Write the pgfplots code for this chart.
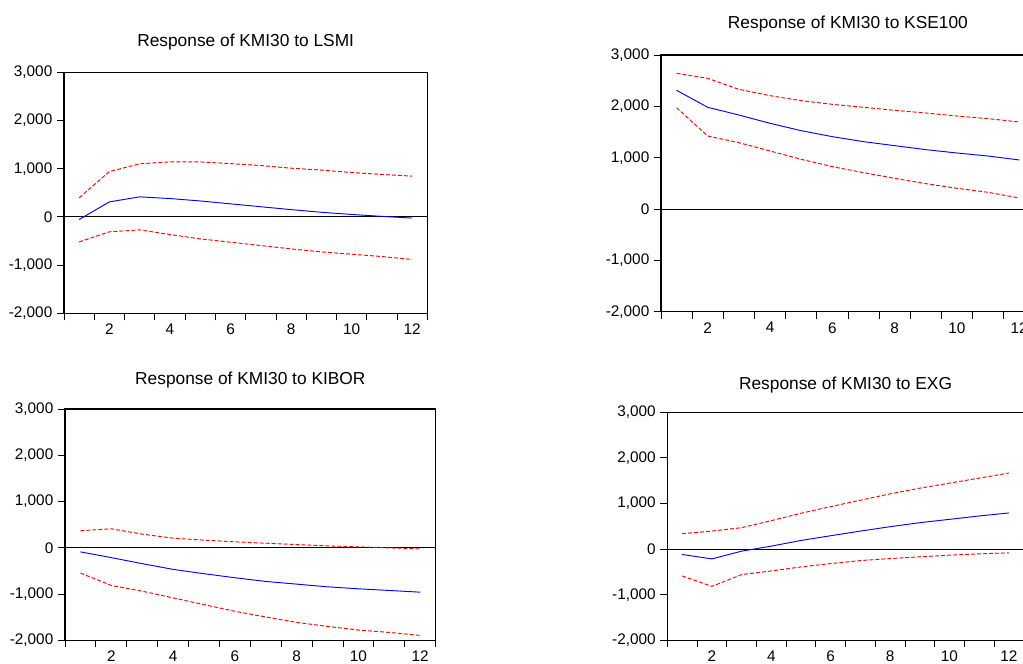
\documentclass[border=0pt]{standalone}
\usepackage{fontspec}
\setmainfont{Liberation Sans}
\usepackage{pgfplots}
\pgfplotsset{compat=1.18}

\pgfplotsset{
  irf/.style={
    scale only axis,
    anchor=south west,
    xmin=0.5, xmax=12.5,
    ymin=-2000, ymax=3000,
    xtick={2,4,...,12},
    minor xtick={0.5,1.5,...,12.5},
    ytick={-2000,-1000,...,3000},
    scaled y ticks=false,
    tick align=outside,
    xtick pos=bottom, ytick pos=left,
    major tick length=5.25pt,
    minor tick length=5.25pt,
    major x tick style={draw=none},
    tick style={black, line width=0.6pt},
    axis line style={black, line width=0.8pt},
    ticklabel style={font=\fontsize{11.5}{13}\selectfont},
    xticklabel style={yshift=0.8pt},
    /pgf/number format/.cd, 1000 sep={,}, assume math mode=true,
    /pgfplots/.cd,
    title style={font=\fontsize{13}{15}\selectfont, at={(0.5,1)}, anchor=base},
  },
  resp/.style={blue, line width=0.7pt},
  band/.style={red, line width=0.7pt, dash pattern=on 3pt off 1.5pt},
}

\begin{document}
\begin{tikzpicture}

% top left
\begin{axis}[irf, at={(48pt,262.3pt)}, width=272.5pt, height=180.75pt,
  title={Response of KMI30 to LSMI}, title style={yshift=13.2pt}]
\draw[black, line width=0.6pt] (axis cs:0.5,0) -- (axis cs:12.5,0);
\addplot[band] coordinates {(1,395) (2,940) (3,1100) (4,1140) (5,1140) (6,1105) (7,1065) (8,1010) (9,970) (10,920) (11,880) (12,845)};
\addplot[band] coordinates {(1,-520) (2,-310) (3,-270) (4,-367) (5,-457) (6,-525) (7,-595) (8,-665) (9,-727) (10,-775) (11,-823) (12,-885)};
\addplot[resp] coordinates {(1,-55) (2,311) (3,415) (4,380) (5,330) (6,270) (7,210) (8,150) (9,95) (10,50) (11,10) (12,-25)};
\end{axis}

% top right
\begin{axis}[irf, at={(495.75pt,263.5pt)}, width=280.35pt, height=192.5pt,
  title={Response of KMI30 to KSE100}, title style={yshift=14pt}]
\draw[black, line width=0.6pt] (axis cs:0.5,0) -- (axis cs:12.5,0);
\addplot[band] coordinates {(1,2643) (2,2545) (3,2331) (4,2208) (5,2110) (6,2039) (7,1981) (8,1922) (9,1870) (10,1812) (11,1760) (12,1695)};
\addplot[band] coordinates {(1,1974) (2,1422) (3,1292) (4,1130) (5,968) (6,825) (7,708) (8,597) (9,494) (10,403) (11,325) (12,214)};
\addplot[resp] coordinates {(1,2312) (2,1981) (3,1831) (4,1669) (5,1526) (6,1409) (7,1312) (8,1234) (9,1156) (10,1091) (11,1032) (12,955)};
\end{axis}

% bottom left
\begin{axis}[irf, at={(48.75pt,16.9pt)}, width=278pt, height=173.6pt,
  title={Response of KMI30 to KIBOR}, title style={yshift=12pt}]
\draw[black, line width=0.6pt] (axis cs:0.5,0) -- (axis cs:12.5,0);
\addplot[band] coordinates {(1,370) (2,413) (3,297) (4,210) (5,167) (6,130) (7,101) (8,72) (9,43) (10,22) (11,0) (12,-22)};
\addplot[band] coordinates {(1,-543) (2,-812) (3,-935) (4,-1080) (5,-1225) (6,-1370) (7,-1493) (8,-1609) (9,-1696) (10,-1775) (11,-1826) (12,-1891)};
\addplot[resp] coordinates {(1,-87) (2,-210) (3,-341) (4,-464) (5,-558) (6,-645) (7,-725) (8,-783) (9,-841) (10,-884) (11,-920) (12,-957)};
\end{axis}

% bottom right
\begin{axis}[irf, at={(500.5pt,16.9pt)}, width=267.3pt, height=171.2pt,
  title={Response of KMI30 to EXG}, title style={yshift=11.25pt}]
\draw[black, line width=0.6pt] (axis cs:0.5,0) -- (axis cs:12.5,0);
\addplot[band] coordinates {(1,338) (2,396) (3,470) (4,624) (5,786) (6,932) (7,1072) (8,1211) (9,1336) (10,1446) (11,1556) (12,1667)};
\addplot[band] coordinates {(1,-587) (2,-815) (3,-558) (4,-477) (5,-389) (6,-316) (7,-250) (8,-206) (9,-169) (10,-132) (11,-103) (12,-81)};
\addplot[resp] coordinates {(1,-117) (2,-213) (3,-44) (4,66) (5,191) (6,294) (7,396) (8,492) (9,580) (10,653) (11,727) (12,793)};
\end{axis}

\pgfresetboundingbox
\useasboundingbox (0,0) rectangle (767.25pt,497.25pt);
\end{tikzpicture}
\end{document}
